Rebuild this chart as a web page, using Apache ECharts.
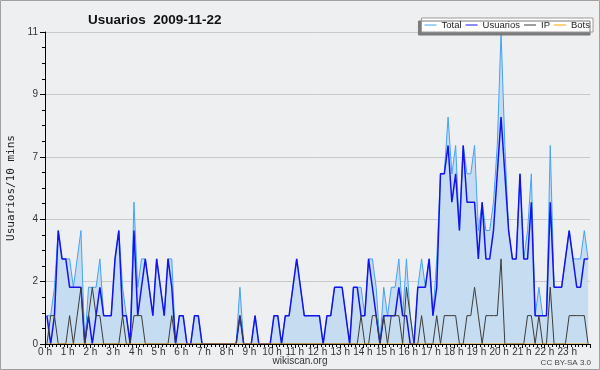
<!DOCTYPE html>
<html>
<head>
<meta charset="utf-8">
<script src="https://cdn.jsdelivr.net/npm/echarts@6/dist/echarts.min.js"></script>
<style>
  html, body { margin: 0; padding: 0; background: #eeeff1; }
  #chart { width: 600px; height: 370px; }
</style>
</head>
<body>
<div id="chart"></div>
<script>
// one value per 10 minute slot, 00:00 .. 23:50 (144 slots)
const total = [
  1, 1, 2, 4, 3, 3, 3, 2, 3, 4,   0, 2, 2, 2, 3, 1, 1, 1, 3, 4,
  2, 1, 0, 5, 2, 3, 3, 2, 1, 3,   2, 1, 3, 3, 0, 1, 1, 0, 0, 1,
  1, 0, 0, 0, 0, 0, 0, 0, 0, 0,   0, 2, 0, 0, 0, 1, 0, 0, 0, 0,
  1, 1, 0, 1, 1, 2, 3, 2, 1, 1,   1, 1, 1, 0, 1, 1, 2, 2, 2, 1,
  0, 2, 2, 2, 1, 3, 3, 2, 0, 2,   1, 2, 2, 3, 1, 3, 1, 0, 2, 3,
  2, 3, 1, 3, 6, 6, 8, 6, 7, 4,   7, 6, 6, 7, 4, 5, 4, 4, 5, 7,
  11, 7, 4, 3, 3, 6, 3, 4, 6, 1,  2, 1, 1, 7, 2, 2, 2, 3, 4, 3,
  3, 3, 4, 3
];
const usuarios = [
  1, 0, 1, 4, 3, 3, 2, 2, 2, 2,   0, 1, 0, 1, 2, 1, 1, 1, 3, 4,
  1, 1, 0, 4, 1, 2, 3, 2, 1, 3,   2, 1, 3, 2, 0, 1, 1, 0, 0, 1,
  1, 0, 0, 0, 0, 0, 0, 0, 0, 0,   0, 1, 0, 0, 0, 1, 0, 0, 0, 0,
  1, 1, 0, 1, 1, 2, 3, 2, 1, 1,   1, 1, 1, 0, 1, 1, 2, 2, 2, 1,
  0, 2, 2, 1, 1, 3, 2, 1, 0, 1,   1, 1, 1, 2, 1, 1, 0, 0, 2, 2,
  2, 3, 1, 2, 6, 6, 7, 5, 6, 4,   7, 5, 5, 5, 3, 5, 3, 3, 4, 6,
  8, 6, 4, 3, 3, 6, 3, 3, 5, 1,   1, 1, 1, 5, 2, 2, 2, 3, 4, 3,
  2, 2, 3, 3
];
const ip = [
  0, 1, 1, 0, 0, 0, 1, 0, 1, 2,   0, 1, 2, 1, 1, 0, 0, 0, 0, 0,
  1, 0, 0, 1, 1, 1, 0, 0, 0, 0,   0, 0, 0, 1, 0, 0, 0, 0, 0, 0,
  0, 0, 0, 0, 0, 0, 0, 0, 0, 0,   0, 1, 0, 0, 0, 0, 0, 0, 0, 0,
  0, 0, 0, 0, 0, 0, 0, 0, 0, 0,   0, 0, 0, 0, 0, 0, 0, 0, 0, 0,
  0, 0, 0, 1, 0, 0, 1, 1, 0, 1,   0, 1, 1, 1, 0, 2, 1, 0, 0, 1,
  0, 0, 0, 1, 0, 1, 1, 1, 1, 0,   0, 1, 1, 2, 1, 0, 1, 1, 1, 1,
  3, 0, 0, 0, 0, 0, 0, 1, 1, 0,   1, 0, 0, 2, 0, 0, 0, 0, 1, 1,
  1, 1, 1, 0
];
const bots = [
  0, 0, 0, 0, 0, 0, 0, 0, 0, 0,   0, 0, 0, 0, 0, 0, 0, 0, 0, 0,
  0, 0, 0, 0, 0, 0, 0, 0, 0, 0,   0, 0, 0, 0, 0, 0, 0, 0, 0, 0,
  0, 0, 0, 0, 0, 0, 0, 0, 0, 0,   0, 0, 0, 0, 0, 0, 0, 0, 0, 0,
  0, 0, 0, 0, 0, 0, 0, 0, 0, 0,   0, 0, 0, 0, 0, 0, 0, 0, 0, 0,
  0, 0, 0, 0, 0, 0, 0, 0, 0, 0,   0, 0, 0, 0, 0, 0, 0, 0, 0, 0,
  0, 0, 0, 0, 0, 0, 0, 0, 0, 0,   0, 0, 0, 0, 0, 0, 0, 0, 0, 0,
  0, 0, 0, 0, 0, 0, 0, 0, 0, 0,   0, 0, 0, 0, 0, 0, 0, 0, 0, 0,
  0, 0, 0, 0
];
const seriesNames = ['Total', 'Usuarios', 'IP', 'Bots'];

const chart = echarts.init(document.getElementById('chart'));

// each slot is drawn at the middle of its 10 minutes, x in hours
const toPoints = arr => arr.map((v, i) => [(i * 10 + 5) / 60, v]);

const lineSeries = (name, data, color, width, extra) => Object.assign({
  name,
  type: 'line',
  data: toPoints(data),
  symbol: 'none',
  animation: false,
  itemStyle: { color },
  lineStyle: { color, width }
}, extra);

chart.setOption({
  backgroundColor: '#eeeff1',
  textStyle: { fontFamily: 'Liberation Sans' },
  title: {
    text: 'Usuarios  2009-11-22',
    left: 83,
    top: 8,
    textStyle: { fontSize: 13.5, fontWeight: 'bold', color: '#111', fontFamily: 'Liberation Sans' }
  },
  legend: {
    data: seriesNames,
    right: 7,
    top: 18,
    padding: [2, 3],
    itemGap: 4,
    itemWidth: 12,
    itemHeight: 1,
    icon: 'rect',
    backgroundColor: '#fff',
    borderColor: '#999',
    borderWidth: 1,
    shadowColor: '#7a7a7a',
    shadowBlur: 0,
    shadowOffsetX: -3,
    shadowOffsetY: 3,
    textStyle: { fontSize: 9.5, color: '#222', fontFamily: 'Liberation Sans' }
  },
  grid: { left: 45, right: 10, top: 32, bottom: 26, outerBoundsMode: 'none' },
  xAxis: {
    type: 'value',
    min: 0,
    max: 24,
    interval: 1,
    z: 10,
    axisLine: { lineStyle: { color: '#000', width: 1 } },
    axisTick: { length: 4, lineStyle: { color: '#000' } },
    minorTick: { show: true, splitNumber: 6, length: 3, lineStyle: { color: '#000' } },
    axisLabel: {
      margin: 3,
      fontSize: 10,
      color: '#333',
      showMaxLabel: false,
      formatter: v => v + ' h'
    },
    splitLine: { show: false }
  },
  yAxis: {
    type: 'value',
    min: 0,
    max: 11,
    interval: 2.2,
    name: 'Usuarios/10 mins',
    nameLocation: 'middle',
    nameGap: 28,
    nameRotate: 90,
    nameTextStyle: { fontFamily: 'DejaVu Sans Mono', fontSize: 11, color: '#222' },
    axisLine: { show: true, lineStyle: { color: '#000', width: 1 } },
    axisTick: { show: true, length: 5, lineStyle: { color: '#000' } },
    minorTick: { show: true, splitNumber: 4, length: 3, lineStyle: { color: '#000' } },
    axisLabel: {
      margin: 7,
      fontSize: 10,
      color: '#333',
      formatter: v => String(Math.round(v))
    },
    splitLine: { lineStyle: { color: '#c9c9cb', width: 1 } }
  },
  series: [
    lineSeries('Total', total, '#45a2f4', 1, { areaStyle: { color: '#c6dcf1', opacity: 1 } }),
    lineSeries('Usuarios', usuarios, '#1313ee', 1.5),
    lineSeries('IP', ip, '#3c3c3c', 1),
    lineSeries('Bots', bots, '#ffa500', 1)
  ],
  graphic: [
    {
      type: 'rect',
      shape: { x: 0.5, y: 0.5, width: 599, height: 369 },
      style: { fill: null, stroke: '#a0a0a0', lineWidth: 1 },
      silent: true
    },
    {
      type: 'text',
      left: 'center',
      top: 356,
      style: { text: 'wikiscan.org', fontSize: 10, fill: '#333', fontFamily: 'Liberation Sans' }
    },
    {
      type: 'text',
      right: 9,
      top: 359,
      style: { text: 'CC BY-SA 3.0', fontSize: 8, fill: '#444', fontFamily: 'Liberation Sans' }
    }
  ]
});
</script>
</body>
</html>
